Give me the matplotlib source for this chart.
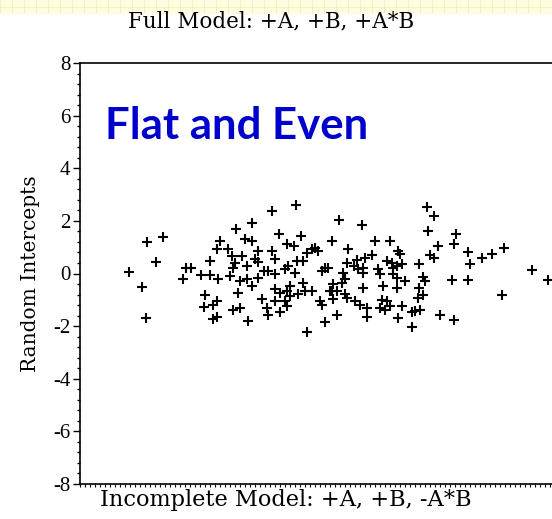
import matplotlib.pyplot as plt
from matplotlib.ticker import MultipleLocator
from matplotlib.patches import Rectangle

# predicted position (arbitrary units) and random intercept estimate
pred = [83, 67, 76, 49, 62, 66, 106, 111, 103, 121, 130, 130, 125, 124, 133, 133,
        216, 192, 172, 156, 165, 172, 199, 221, 207, 214, 140, 137, 148, 152, 178, 192,
        195, 175, 178, 162, 155, 167, 153, 138, 150, 160, 167, 172, 178, 184, 188, 195,
        205, 208, 217, 223, 227, 232, 235, 238, 245, 242, 248, 215, 223, 210, 207, 195,
        200, 210, 218, 225, 232, 195, 205, 207, 182, 187, 188, 200, 158, 153, 160, 137,
        137, 168, 227, 245, 242, 240, 250,
        347, 354, 348, 358, 350, 354, 339, 343, 345, 339, 343, 338, 340, 335, 332, 332,
        360, 259, 282, 252, 295, 310, 268, 318, 320, 292, 285, 277, 267, 274, 278, 283,
        283, 307, 312, 313, 317, 322, 298, 300, 313, 317, 325, 303, 317, 283, 263, 265,
        262, 253, 252, 257, 265, 253, 267, 275, 280, 287, 287, 302, 307, 300, 305, 310,
        322, 318, 257,
        376, 374, 388, 390, 402, 412, 424, 452, 468, 372, 388, 422, 374]
intercept = [1.37, 1.18, 0.44, 0.06, -0.52, -1.68, 0.21, 0.21, -0.21, -0.06, -0.06, 0.48,
             -0.83, -1.29, -1.18, -1.72,
             2.61, 2.37, 1.91, 1.68, 1.33, 1.25, 1.49, 1.41, 1.14, 1.06, 1.25, 0.95, 0.95,
             0.68, 0.87, 0.87, 0.56, 0.56, 0.44, 0.68, 0.41, 0.29, 0.21, -0.21, -0.10, -0.29,
             -0.21, -0.48, -0.17, 0.10, 0.10, -0.02, 0.17, 0.29, 0.48, 0.48, 0.79, 0.95, 0.98,
             0.87, 0.21, 0.10, 0.21, 0.02, -0.37, -0.48, -0.68, -0.60, -0.75, -0.87, -0.79,
             -0.68, -0.68, -1.06, -1.06, -1.25, -0.98, -1.33, -1.56, -1.45, -0.75, -1.37,
             -1.33, -1.06, -1.64, -1.79, -2.22, -1.83, -1.18, -1.06, -0.68,
             2.53, 2.18, 1.60, 1.06, 0.71, 0.60, 0.37, -0.14, -0.29, -0.56, -0.83, -0.95,
             -1.37, -1.41, -1.45, -2.03, -1.56, 2.03, 1.83, 1.25, 1.25, 1.25, 0.95, 0.87,
             0.75, 0.71, 0.60, 0.52, 0.41, 0.29, 0.17, 0.21, 0.02, 0.48, 0.41, 0.21, 0.29,
             0.37, 0.17, -0.02, -0.02, -0.17, -0.29, -0.48, -0.56, -0.56, 0.02, -0.21, -0.37,
             -0.41, -0.68, -0.68, -0.79, -0.98, -0.95, -1.06, -1.18, -1.33, -1.64, -1.02,
             -1.06, -1.33, -1.37, -1.25, -1.25, -1.68, -1.56,
             1.52, 1.14, 0.83, 0.37, 0.60, 0.75, 0.98, 0.14, -0.25, -0.25, -0.25, -0.83, -1.76]

yticks = [-8, -6, -4, -2, 0, 2, 4, 6, 8]

serif = 'DejaVu Serif'

fig = plt.figure(figsize=(5.52, 5.19), dpi=100)

# pale yellow strip at the very top
band = fig.add_axes([0, 1 - 14 / 519, 1, 14 / 519])
band.set_xlim(0, 552)
band.set_ylim(0, 14)
band.add_patch(Rectangle((0, 0), 552, 14, color='#fffde0', zorder=0))
for gx in range(0, 552, 12):
    band.axvline(gx, color='#f0eec0', lw=0.6)
band.axhline(7, color='#f0eec0', lw=0.6)
band.axis('off')

ax = fig.add_axes([80 / 552, 1 - 484 / 519, 480 / 552, 421 / 519])
ax.scatter(pred, intercept, marker='+', s=60, c='black', linewidths=1.5, zorder=3)

ax.set_xlim(0, 480)
ax.set_ylim(-8, 8)
ax.set_yticks(yticks)
ax.set_yticklabels([str(t) for t in yticks], fontfamily='Liberation Serif', fontsize=15)
ax.yaxis.set_minor_locator(MultipleLocator(0.4))
ax.set_xticks([])
ax.xaxis.set_minor_locator(MultipleLocator(5))
ax.tick_params(axis='y', which='major', direction='out', length=5, width=1, pad=2)
ax.tick_params(axis='y', which='minor', direction='out', length=2.5, width=1)
ax.tick_params(axis='x', which='minor', direction='out', length=2, width=0.8)
ax.spines['right'].set_visible(False)
for s in ['left', 'top', 'bottom']:
    ax.spines[s].set_linewidth(1.2)

ax.set_ylabel('Random Intercepts', fontfamily=serif, fontsize=14.5)
ax.yaxis.set_label_coords(-0.084, 0.5)
ax.set_xlabel('Incomplete Model: +A, +B, -A*B', fontfamily=serif, fontsize=16.2)
ax.xaxis.set_label_coords(0.042, -0.012)
ax.xaxis.label.set_va('top')
ax.xaxis.label.set_ha('left')

fig.text(271 / 552, 1 - 21 / 519, 'Full Model: +A, +B, +A*B', fontfamily=serif,
         fontsize=15.5, ha='center', va='center')

ax.text(0.053, 0.85, 'Flat and Even', transform=ax.transAxes, fontfamily='Lato',
        fontweight='bold', fontsize=31.5, color='#0000cc', ha='left', va='center')

fig.savefig('out.png', dpi=100)
